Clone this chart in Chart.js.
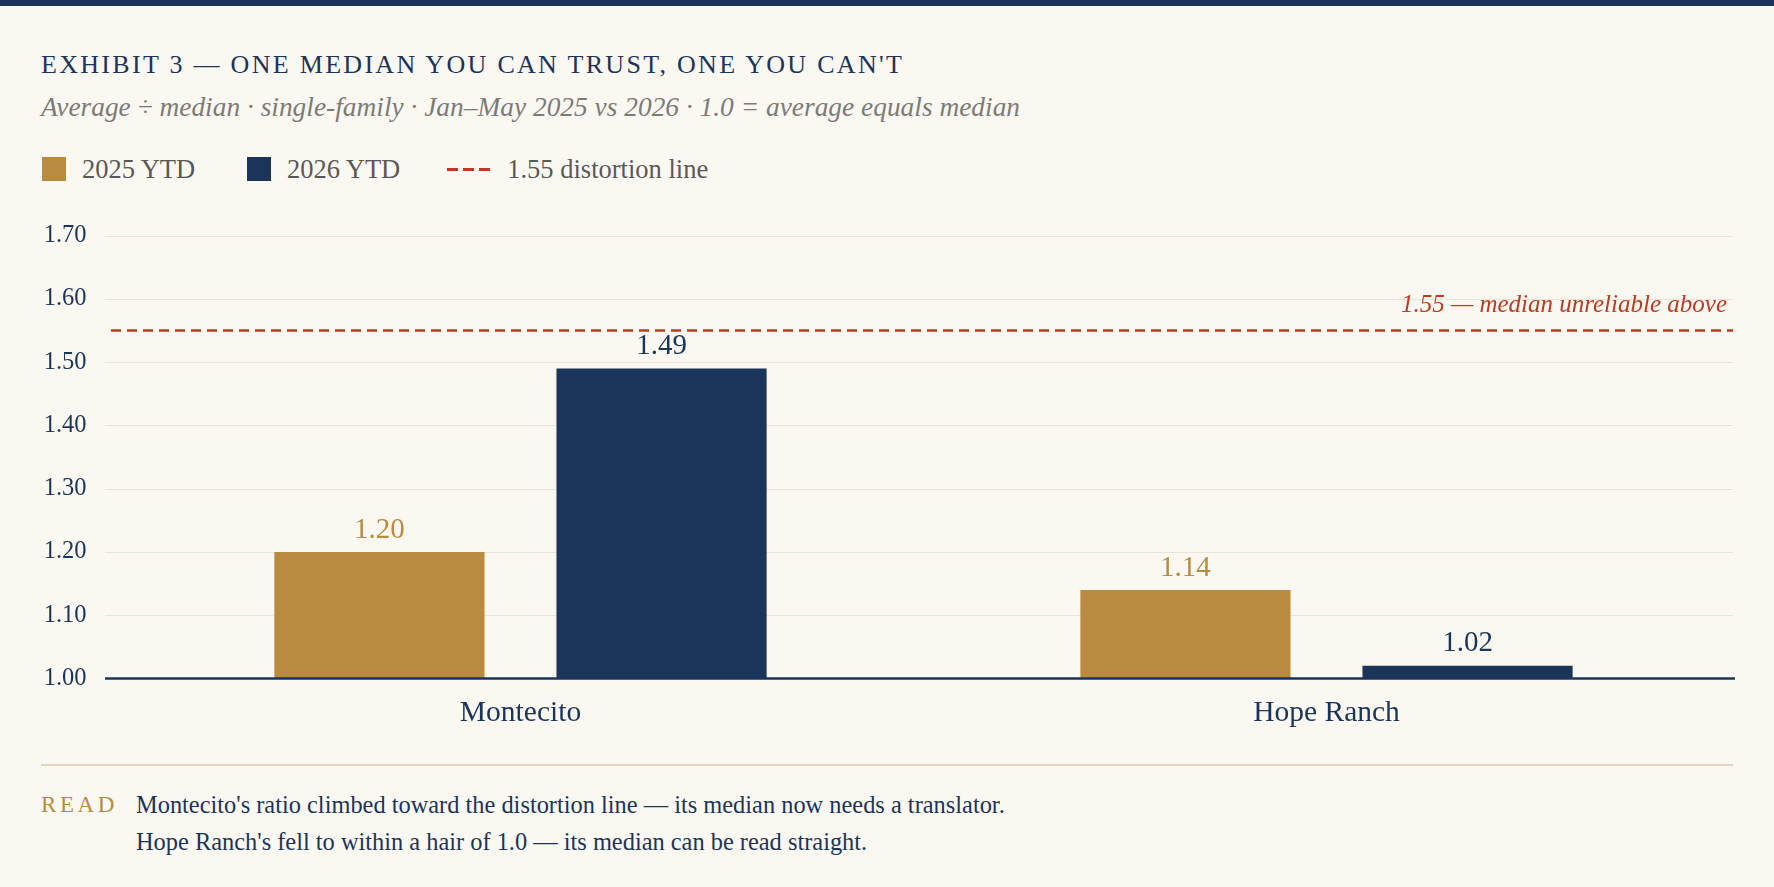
<!DOCTYPE html>
<html>
<head>
<meta charset="utf-8">
<script src="https://cdn.jsdelivr.net/npm/chart.js@4.4.1/dist/chart.umd.min.js"></script>
<style>
  html, body { margin: 0; padding: 0; }
  body {
    width: 1774px; height: 887px; overflow: hidden; position: relative;
    background: #fbf8f2; font-family: "Liberation Serif", "Times New Roman", serif;
  }
  .topbar { position: absolute; left: 0; top: 0; width: 1774px; height: 6px; background: #1b3459; }
  .title {
    position: absolute; left: 41px; top: 49px; font-size: 26px; line-height: 32px;
    letter-spacing: 2.3px; color: #1b3459; white-space: nowrap;
  }
  .subtitle {
    position: absolute; left: 41px; top: 91px; font-size: 27.4px; line-height: 32px;
    font-style: italic; color: #7d7b78; white-space: nowrap;
  }
  .legend { position: absolute; left: 42px; top: 154px; height: 30px; display: flex; align-items: center; }
  .legend .item { display: flex; align-items: center; font-size: 26.5px; color: #5a5856; }
  .legend .sw { width: 24px; height: 24px; margin-right: 16px; }
  .legend .dash {
    width: 43px; height: 3px; margin-right: 17px;
    background: repeating-linear-gradient(to right, #b83c22 0 11px, transparent 11px 16px);
  }
  #wrap { position: absolute; left: 0; top: 190px; width: 1774px; height: 570px; }
  .rule { position: absolute; left: 41px; top: 764px; width: 1692px; height: 2px; background: #e2d6c2; }
  .read {
    position: absolute; left: 41px; top: 791px; font-size: 23px; letter-spacing: 3.6px;
    color: #b98b3e; line-height: 28px;
  }
  .note {
    position: absolute; left: 136px; top: 787px; font-size: 24.4px; line-height: 36.5px;
    color: #1b3459; white-space: nowrap;
  }
</style>
</head>
<body>
<div class="topbar"></div>
<div class="title">EXHIBIT 3 — ONE MEDIAN YOU CAN TRUST, ONE YOU CAN'T</div>
<div class="subtitle">Average ÷ median · single-family · Jan–May 2025 vs 2026 · 1.0 = average equals median</div>
<div class="legend">
  <div class="item"><span class="sw" style="background:#b98b3e"></span>2025 YTD</div>
  <div class="item" style="margin-left:52px"><span class="sw" style="background:#1b3459"></span>2026 YTD</div>
  <div class="item" style="margin-left:47px"><span class="dash"></span>1.55 distortion line</div>
</div>
<div id="wrap"><canvas id="chart"></canvas></div>
<div class="rule"></div>
<div class="read">READ</div>
<div class="note">Montecito's ratio climbed toward the distortion line — its median now needs a translator.<br>Hope Ranch's fell to within a hair of 1.0 — its median can be read straight.</div>

<script>
const categories = ['Montecito', 'Hope Ranch'];
const ytd2025 = [1.20, 1.14];
const ytd2026 = [1.49, 1.02];
const distortionLine = 1.55;
const distortionNote = '1.55 — median unreliable above';

const GOLD = '#b98b3e';
const NAVY = '#1b3459';
const RED = '#b83c22';
const SERIF = '"Liberation Serif", "Times New Roman", serif';

// the grid and base line run a little wider than the bar area
const GRID_LEFT = 105;
const GRID_RIGHT = 1733;

const gridPlugin = {
  id: 'wideGrid',
  beforeDatasetsDraw(chart) {
    const { ctx, scales } = chart;
    const y = scales.y;
    ctx.save();
    ctx.strokeStyle = '#ebe3d6';
    ctx.lineWidth = 1;
    y.ticks.forEach((t, i) => {
      if (i === 0) return;
      const py = Math.round(y.getPixelForTick(i)) + 0.5;
      ctx.beginPath();
      ctx.moveTo(GRID_LEFT, py);
      ctx.lineTo(GRID_RIGHT, py);
      ctx.stroke();
    });
    ctx.restore();
  },
  afterDatasetsDraw(chart) {
    const { ctx, scales } = chart;
    const py = scales.y.getPixelForValue(scales.y.min);
    ctx.save();
    ctx.strokeStyle = NAVY;
    ctx.lineWidth = 2.5;
    ctx.beginPath();
    ctx.moveTo(GRID_LEFT, py);
    ctx.lineTo(GRID_RIGHT + 2, py);
    ctx.stroke();
    ctx.restore();
  }
};

// dashed 1.55 line + its note
const distortionPlugin = {
  id: 'distortion',
  afterDatasetsDraw(chart) {
    const { ctx, scales } = chart;
    const y = scales.y.getPixelForValue(distortionLine);
    ctx.save();
    ctx.strokeStyle = RED;
    ctx.lineWidth = 2.5;
    ctx.setLineDash([10, 6]);
    ctx.beginPath();
    ctx.moveTo(GRID_LEFT + 6, y);
    ctx.lineTo(GRID_RIGHT, y);
    ctx.stroke();
    ctx.setLineDash([]);
    ctx.fillStyle = RED;
    ctx.font = 'italic 25px ' + SERIF;
    ctx.textAlign = 'right';
    ctx.textBaseline = 'alphabetic';
    ctx.fillText(distortionNote, GRID_RIGHT - 6, y - 18.5);
    ctx.restore();
  }
};

// value labels above bars
const valueLabels = {
  id: 'valueLabels',
  afterDatasetsDraw(chart) {
    const { ctx } = chart;
    ctx.save();
    ctx.font = '29px ' + SERIF;
    ctx.textAlign = 'center';
    ctx.textBaseline = 'middle';
    chart.data.datasets.forEach((ds, i) => {
      const meta = chart.getDatasetMeta(i);
      ctx.fillStyle = ds.backgroundColor;
      meta.data.forEach((bar, j) => {
        ctx.fillText(ds.data[j].toFixed(2), bar.x, bar.y - 22);
      });
    });
    ctx.restore();
  }
};

new Chart(document.getElementById('chart'), {
  type: 'bar',
  data: {
    labels: categories,
    datasets: [
      { label: '2025 YTD', data: ytd2025, backgroundColor: GOLD, categoryPercentage: 0.7, barPercentage: 0.745 },
      { label: '2026 YTD', data: ytd2026, backgroundColor: NAVY, categoryPercentage: 0.7, barPercentage: 0.745 }
    ]
  },
  options: {
    responsive: true,
    maintainAspectRatio: false,
    animation: false,
    layout: { padding: { top: 0, right: 44.5, bottom: 21.5, left: 0 } },
    plugins: {
      legend: { display: false },
      tooltip: { enabled: false }
    },
    scales: {
      x: {
        grid: { display: false, drawTicks: false },
        border: { display: false },
        ticks: { color: NAVY, font: { family: SERIF, size: 29.5 }, padding: 17 },
        afterFit(scale) { scale.height = 60; }
      },
      y: {
        min: 1.0,
        max: 1.7,
        grid: { display: false, drawTicks: false },
        border: { display: false },
        ticks: {
          stepSize: 0.1,
          color: NAVY,
          font: { family: SERIF, size: 24.5 },
          padding: 31,
          callback: v => v.toFixed(2)
        },
        afterFit(scale) { scale.width = 117.5; }
      }
    }
  },
  plugins: [gridPlugin, distortionPlugin, valueLabels]
});
</script>
</body>
</html>
